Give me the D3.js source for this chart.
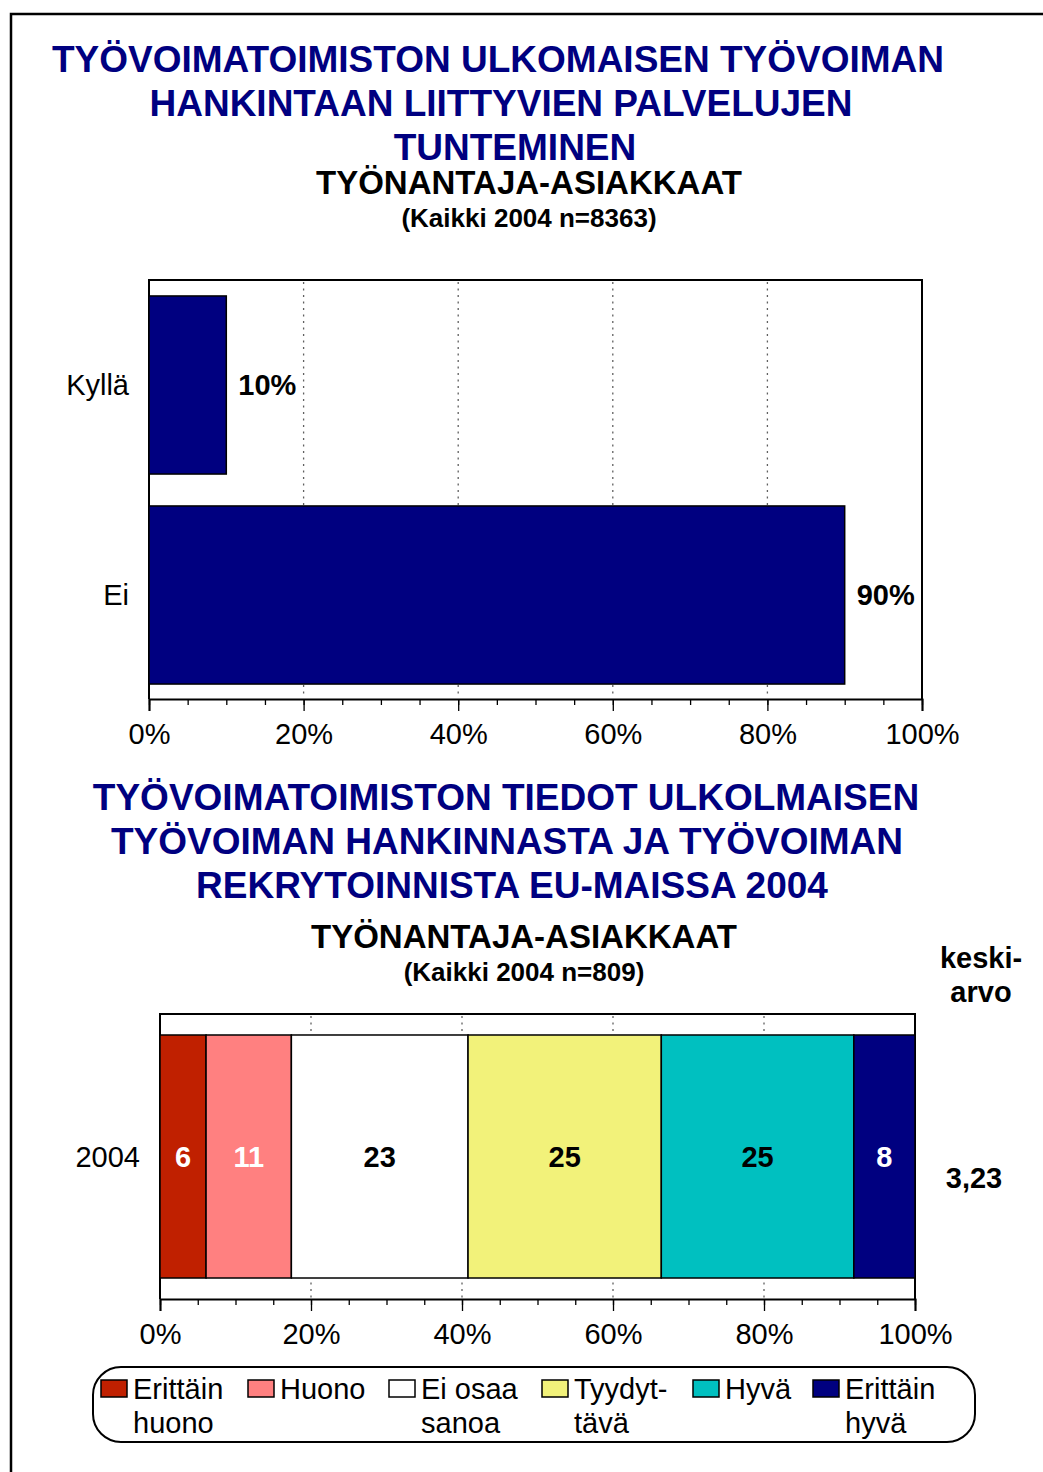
<!DOCTYPE html>
<html>
<head>
<meta charset="utf-8">
<script src="https://cdn.jsdelivr.net/npm/d3@7"></script>
<style>
  body { margin: 0; background: #fff; }
  text { font-family: "Liberation Sans", Arial, sans-serif; }
</style>
</head>
<body>
<script>
const WIDTH = 1043;
const HEIGHT = 1472;
const NAVY = '#000080';
const FS = 29;

// top chart data
const knowCategories = ['Kyllä', 'Ei'];
const knowValues = [10, 90];

// bottom chart data
const ratingYear = ['2004'];
const ratingCategories = ['Erittäin huono', 'Huono', 'Ei osaa sanoa', 'Tyydyttävä', 'Hyvä', 'Erittäin hyvä'];
const ratingValues = [6.1, 11.3, 23.4, 25.6, 25.5, 8.1];
const ratingLabels = ['6', '11', '23', '25', '25', '8'];
const ratingMean = '3,23';
const ratingColors = ['#C02000', '#FF8080', '#FFFFFF', '#F2F27A', '#00C0C0', '#000080'];
const ratingTextColors = ['#fff', '#fff', '#000', '#000', '#000', '#fff'];
const legendLines = [['Erittäin', 'huono'], ['Huono'], ['Ei osaa', 'sanoa'], ['Tyydyt-', 'tävä'], ['Hyvä'], ['Erittäin', 'hyvä']];

const xTicks = [0, 20, 40, 60, 80, 100];

const svg = d3.select('body')
    .append('svg')
    .attr('width', WIDTH)
    .attr('height', HEIGHT);

// outer frame (runs off the right and bottom of the page)
svg.append('rect')
    .attr('x', 11).attr('y', 14)
    .attr('width', 1200).attr('height', 1600)
    .attr('fill', 'none')
    .attr('stroke', 'black')
    .attr('stroke-width', 2.5);

function titleBlock(lines, centers, y0, sub, subCx, subY, note, noteY) {
    lines.forEach((t, i) => {
        svg.append('text')
            .attr('x', centers[i]).attr('y', y0 + i * 44)
            .attr('text-anchor', 'middle')
            .attr('font-size', 37).attr('font-weight', 'bold')
            .attr('fill', NAVY)
            .text(t);
    });
    svg.append('text')
        .attr('x', subCx).attr('y', subY)
        .attr('text-anchor', 'middle')
        .attr('font-size', 33).attr('font-weight', 'bold')
        .text(sub);
    svg.append('text')
        .attr('x', subCx).attr('y', noteY)
        .attr('text-anchor', 'middle')
        .attr('font-size', 26).attr('font-weight', 'bold')
        .text(note);
}

// x axis with major ticks every 20 and minor every 5
function drawXAxis(x, yPos) {
    const g = svg.append('g').attr('transform', `translate(0, ${yPos})`);
    g.call(d3.axisBottom(x).tickValues(d3.range(0, 101, 5)).tickSize(6).tickFormat(''))
        .call(g => g.select('.domain').remove())
        .call(g => g.selectAll('line').attr('stroke', 'black').attr('stroke-width', 1.3));
    const g2 = svg.append('g').attr('transform', `translate(0, ${yPos})`);
    g2.call(d3.axisBottom(x).tickValues(xTicks).tickSize(12).tickPadding(12).tickFormat(d => d + '%'))
        .call(g => g.select('.domain').attr('stroke', 'black').attr('stroke-width', 2))
        .call(g => g.selectAll('line').attr('stroke', 'black').attr('stroke-width', 1.3))
        .call(g => g.selectAll('text')
            .attr('font-size', FS)
            .attr('fill', 'black')
            .attr('font-family', '"Liberation Sans", Arial, sans-serif'));
}

function gridLines(x, y1, y2) {
    svg.append('g').selectAll('line')
        .data(xTicks.slice(1, -1))
        .join('line')
        .attr('x1', d => x(d)).attr('x2', d => x(d))
        .attr('y1', y1).attr('y2', y2)
        .attr('stroke', '#606060')
        .attr('stroke-width', 1.3)
        .attr('stroke-dasharray', '2,4.5');
}

function plotFrame(x0, x1, y0, y1) {
    svg.append('path')
        .attr('d', `M${x0},${y1}V${y0}H${x1}V${y1}`)
        .attr('fill', 'none')
        .attr('stroke', 'black')
        .attr('stroke-width', 2);
}

// ---------- top chart ----------
titleBlock(
    ['TYÖVOIMATOIMISTON ULKOMAISEN TYÖVOIMAN', 'HANKINTAAN LIITTYVIEN PALVELUJEN', 'TUNTEMINEN'],
    [498, 501, 515], 72,
    'TYÖNANTAJA-ASIAKKAAT', 529, 194,
    '(Kaikki 2004 n=8363)', 227);

const x1 = d3.scaleLinear().domain([0, 100]).range([149, 922]);
const y1 = d3.scaleBand().domain(knowCategories).range([280, 700])
    .paddingInner(0.152).paddingOuter(0.076);

gridLines(x1, 282, 698);
plotFrame(149, 922, 280, 699);

svg.append('g').selectAll('rect')
    .data(knowValues)
    .join('rect')
    .attr('x', x1(0))
    .attr('y', (d, i) => y1(knowCategories[i]))
    .attr('width', d => x1(d) - x1(0))
    .attr('height', y1.bandwidth())
    .attr('fill', NAVY)
    .attr('stroke', 'black')
    .attr('stroke-width', 1.5);

svg.append('g').selectAll('text')
    .data(knowValues)
    .join('text')
    .attr('x', d => x1(d) + 12)
    .attr('y', (d, i) => y1(knowCategories[i]) + y1.bandwidth() / 2)
    .attr('dy', '0.35em')
    .attr('font-size', FS).attr('font-weight', 'bold')
    .text(d => d + '%');

svg.append('g').selectAll('text')
    .data(knowCategories)
    .join('text')
    .attr('x', 129)
    .attr('y', d => y1(d) + y1.bandwidth() / 2)
    .attr('dy', '0.35em')
    .attr('text-anchor', 'end')
    .attr('font-size', FS)
    .text(d => d);

drawXAxis(x1, 699);

// ---------- bottom chart ----------
titleBlock(
    ['TYÖVOIMATOIMISTON TIEDOT ULKOLMAISEN', 'TYÖVOIMAN HANKINNASTA JA TYÖVOIMAN', 'REKRYTOINNISTA EU-MAISSA 2004'],
    [506, 507, 512], 810,
    'TYÖNANTAJA-ASIAKKAAT', 524, 948,
    '(Kaikki 2004 n=809)', 981);

svg.append('text')
    .attr('x', 981).attr('y', 968)
    .attr('text-anchor', 'middle')
    .attr('font-size', FS).attr('font-weight', 'bold')
    .text('keski-');
svg.append('text')
    .attr('x', 981).attr('y', 1002)
    .attr('text-anchor', 'middle')
    .attr('font-size', FS).attr('font-weight', 'bold')
    .text('arvo');

const x2 = d3.scaleLinear().domain([0, 100]).range([160, 915]);
const y2 = d3.scaleBand().domain(ratingYear).range([1014, 1299])
    .paddingInner(0).paddingOuter(0.0864);

gridLines(x2, 1016, 1298);
plotFrame(160, 915, 1014, 1299);

const stacked = [];
let acc = 0;
ratingValues.forEach((v, i) => {
    stacked.push({ x0: acc, x1: acc + v, i });
    acc += v;
});

const barY = y2(ratingYear[0]);
svg.append('g').selectAll('rect')
    .data(stacked)
    .join('rect')
    .attr('x', d => x2(d.x0))
    .attr('y', barY)
    .attr('width', d => x2(d.x1) - x2(d.x0))
    .attr('height', y2.bandwidth())
    .attr('fill', d => ratingColors[d.i])
    .attr('stroke', 'black')
    .attr('stroke-width', 1.5);

svg.append('g').selectAll('text')
    .data(stacked)
    .join('text')
    .attr('x', d => x2((d.x0 + d.x1) / 2))
    .attr('y', barY + y2.bandwidth() / 2)
    .attr('dy', '0.35em')
    .attr('text-anchor', 'middle')
    .attr('font-size', FS).attr('font-weight', 'bold')
    .attr('fill', d => ratingTextColors[d.i])
    .text(d => ratingLabels[d.i]);

svg.append('text')
    .attr('x', 140)
    .attr('y', barY + y2.bandwidth() / 2)
    .attr('dy', '0.35em')
    .attr('text-anchor', 'end')
    .attr('font-size', FS)
    .text(ratingYear[0]);

svg.append('text')
    .attr('x', 974)
    .attr('y', barY + y2.bandwidth() / 2 + 21)
    .attr('dy', '0.35em')
    .attr('text-anchor', 'middle')
    .attr('font-size', FS).attr('font-weight', 'bold')
    .text(ratingMean);

drawXAxis(x2, 1299);

// ---------- legend ----------
svg.append('rect')
    .attr('x', 93).attr('y', 1367)
    .attr('width', 882).attr('height', 75)
    .attr('rx', 28).attr('ry', 28)
    .attr('fill', 'white')
    .attr('stroke', 'black')
    .attr('stroke-width', 2);

const legendX = [101, 248, 389, 542, 693, 813];
const legend = svg.append('g').selectAll('g')
    .data(ratingCategories)
    .join('g')
    .attr('transform', (d, i) => `translate(${legendX[i]}, 1380)`);

legend.append('rect')
    .attr('width', 26).attr('height', 17)
    .attr('fill', (d, i) => ratingColors[i])
    .attr('stroke', 'black')
    .attr('stroke-width', 1.5);

legend.each(function (d, i) {
    d3.select(this).selectAll('text')
        .data(legendLines[i])
        .join('text')
        .attr('x', 32)
        .attr('y', (t, j) => 19 + j * 34)
        .attr('font-size', FS)
        .text(t => t);
});
</script>
</body>
</html>
